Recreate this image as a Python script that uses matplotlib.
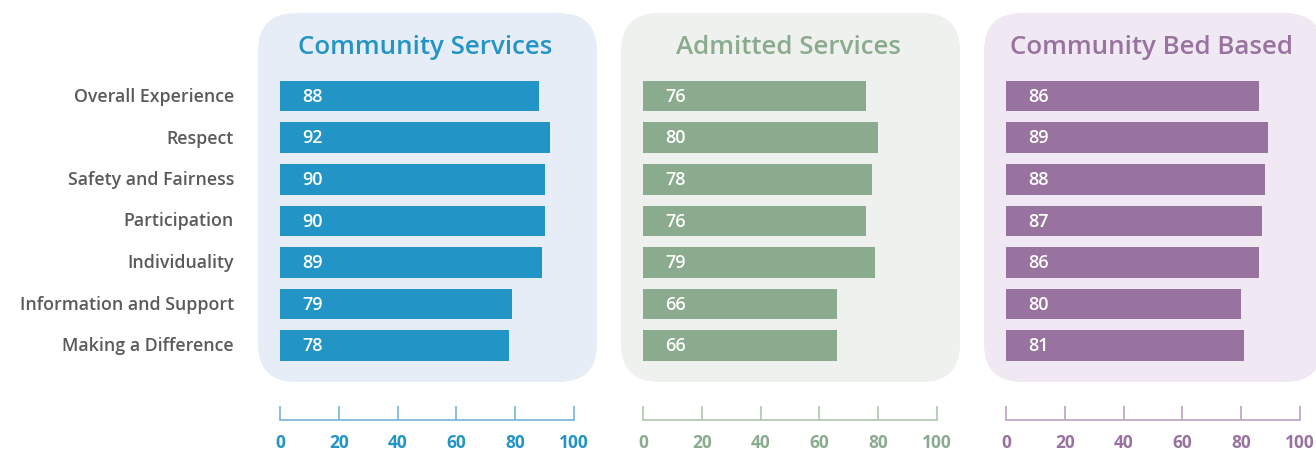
import matplotlib.pyplot as plt
from matplotlib.patches import FancyBboxPatch

# data
categories = ["Overall Experience", "Respect", "Safety and Fairness", "Participation",
              "Individuality", "Information and Support", "Making a Difference"]
panel_titles = ["Community Services", "Admitted Services", "Community Bed Based"]
community_services = [88, 92, 90, 90, 89, 79, 78]
admitted_services = [76, 80, 78, 76, 79, 66, 66]
community_bed_based = [86, 89, 88, 87, 86, 80, 81]
tick_values = [0, 20, 40, 60, 80, 100]

series = [community_services, admitted_services, community_bed_based]
bar_colors = ["#2394c6", "#8aab8e", "#98739f"]
bg_colors = ["#e6edf7", "#eff1ee", "#f0e8f2"]
axis_colors = ["#76b4da", "#b0c7b2", "#bba0c1"]

plt.rcParams['font.family'] = ['Open Sans', 'DejaVu Sans']

W, H = 1316, 453
fig = plt.figure(figsize=(W / 100, H / 100), dpi=100)


def px_box(x0, y0, x1, y1):
    # pixel coords (top-left origin) -> figure fraction rect
    return [x0 / W, 1 - y1 / H, (x1 - x0) / W, (y1 - y0) / H]


panel_left = [280, 643, 1006]
box_left = [258, 621, 984]
scale_w = 294
n = len(categories)

for k in range(3):
    x0 = panel_left[k]

    # rounded background box (in inches so the corners stay round)
    bx0 = box_left[k]
    bx1 = bx0 + 339
    box = FancyBboxPatch(((bx0 + 38) / 100, (H - 382 + 38) / 100),
                         (bx1 - bx0 - 76) / 100, (382 - 13 - 76) / 100,
                         boxstyle="round,pad=0.38",
                         transform=fig.dpi_scale_trans,
                         facecolor=bg_colors[k], edgecolor="none", zorder=-5)
    fig.patches.append(box)

    # bars
    ax = fig.add_axes(px_box(x0, 75.3, x0 + scale_w, 366.3))
    ax.set_zorder(3)
    ax.set_xlim(0, 100)
    ax.set_ylim(n - 0.5, -0.5)
    ax.barh(range(n), series[k], height=0.735, color=bar_colors[k])
    for i, v in enumerate(series[k]):
        ax.text(7.6, i + 0.02, str(v), color="white", fontsize=13,
                fontweight="semibold", va="center", ha="left")
    ax.axis("off")
    ax.patch.set_alpha(0)

    fig.text((x0 + scale_w / 2 - 2) / W, 1 - 47 / H, panel_titles[k],
             color=bar_colors[k], fontsize=18.6, fontweight="semibold",
             ha="center", va="center", zorder=3)

    # scale axis
    sax = fig.add_axes(px_box(x0, 400, x0 + scale_w, 420))
    sax.set_zorder(3)
    sax.set_xlim(0, 100)
    sax.patch.set_alpha(0)
    for s in ["top", "left", "right"]:
        sax.spines[s].set_visible(False)
    sax.spines["bottom"].set_color(axis_colors[k])
    sax.spines["bottom"].set_linewidth(1.2)
    sax.set_yticks([])
    sax.set_xticks(tick_values)
    sax.set_xticklabels([str(t) for t in tick_values])
    sax.tick_params(axis="x", direction="in", length=10, width=1.2,
                    color=axis_colors[k], labelcolor=bar_colors[k],
                    labelsize=12.5, pad=10)
    for lab in sax.get_xticklabels():
        lab.set_fontweight("bold")

# category labels
for i, c in enumerate(categories):
    fig.text(234 / W, 1 - (97 + i * 41.5) / H, c, color="#5a5a5a",
             fontsize=12.8, fontweight="semibold", ha="right", va="center")

fig.savefig("out.png", dpi=100)
